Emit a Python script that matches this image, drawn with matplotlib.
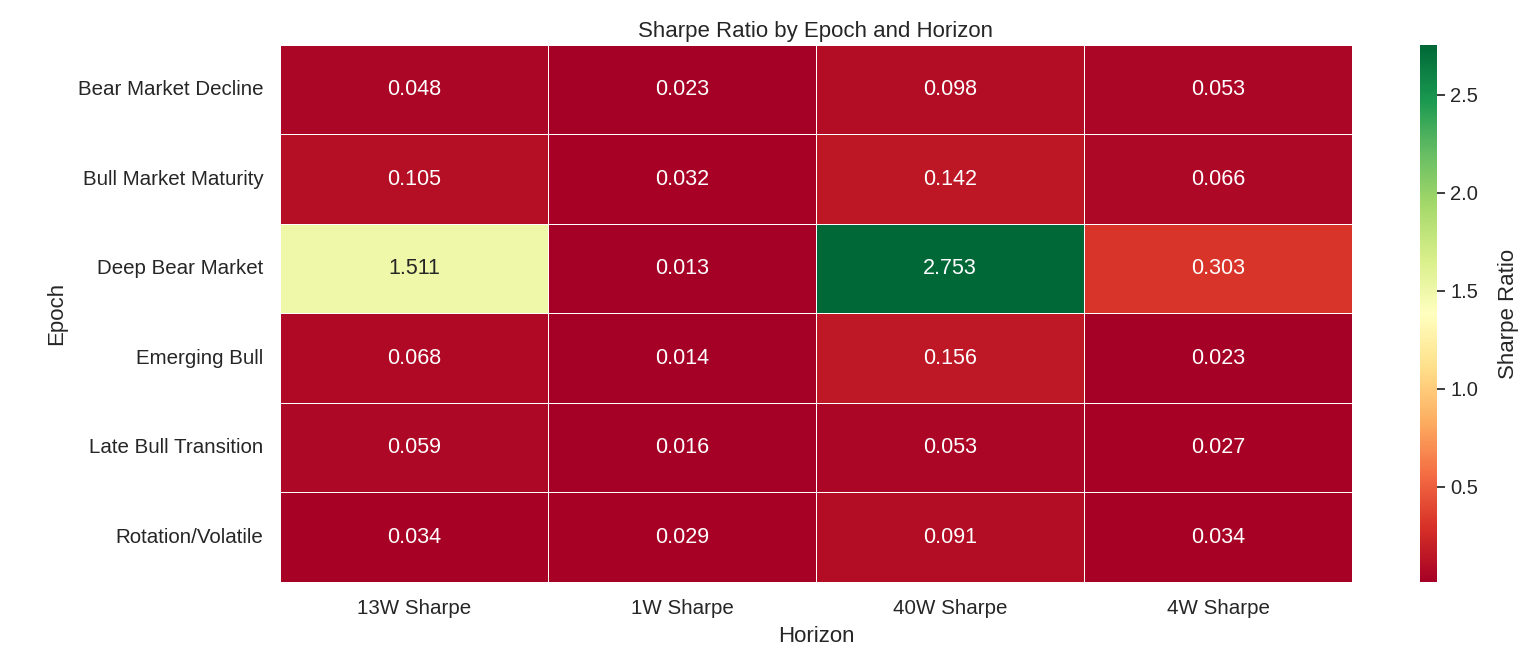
import numpy as np
import matplotlib
matplotlib.use('Agg')
import matplotlib.pyplot as plt
import seaborn as sns

epochs = ["Bear Market Decline", "Bull Market Maturity", "Deep Bear Market",
          "Emerging Bull", "Late Bull Transition", "Rotation/Volatile"]
horizons = ["13W Sharpe", "1W Sharpe", "40W Sharpe", "4W Sharpe"]
sharpe = np.array([
    [0.048, 0.023, 0.098, 0.053],
    [0.105, 0.032, 0.142, 0.066],
    [1.511, 0.013, 2.753, 0.303],
    [0.068, 0.014, 0.156, 0.023],
    [0.059, 0.016, 0.053, 0.027],
    [0.034, 0.029, 0.091, 0.034],
])

sns.set_theme(style="white")
plt.rcParams['font.family'] = ['Liberation Sans', 'DejaVu Sans']

fig = plt.figure(figsize=(15.27, 6.55), dpi=100)
ax = fig.add_axes([280/1527, 1 - 582/655, (1352-280)/1527, (582-45)/655])
cax = fig.add_axes([1420/1527, 1 - 582/655, 17/1527, (582-45)/655])

sns.heatmap(sharpe, annot=True, fmt=".3f", cmap="RdYlGn", linewidths=0.5,
            linecolor="white", xticklabels=horizons, yticklabels=epochs,
            ax=ax, cbar_ax=cax, cbar_kws={'label': 'Sharpe Ratio'},
            annot_kws={'size': 15.5})
ax.set_title("Sharpe Ratio by Epoch and Horizon", fontsize=16, pad=6)
ax.set_xlabel("Horizon", fontsize=16, labelpad=6)
ax.set_ylabel("Epoch", fontsize=16, labelpad=8)
ax.tick_params(axis='both', labelsize=14.8)
ax.tick_params(axis='y', rotation=0, pad=6)
ax.tick_params(axis='x', pad=6)
cax.tick_params(labelsize=14.5)
cax.yaxis.label.set_size(16)
cax.yaxis.labelpad = 14

plt.savefig("out.png")
